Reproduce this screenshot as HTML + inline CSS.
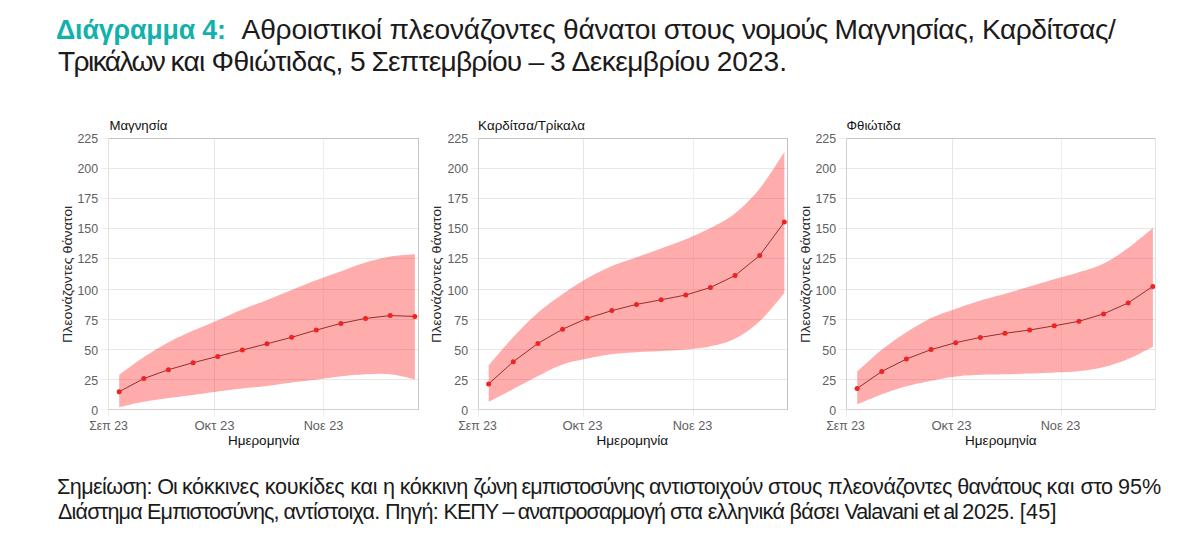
<!DOCTYPE html>
<html><head><meta charset="utf-8"><style>
html,body{margin:0;padding:0;background:#fff;}
body{width:1202px;height:556px;position:relative;overflow:hidden;font-family:"Liberation Sans",sans-serif;}
svg{position:absolute;left:0;top:0;}
text{font-family:"Liberation Sans",sans-serif;}
.tt{font-size:28.2px;fill:#1c1a1a;}
.tb{font-size:26.8px;fill:#12b1ab;font-weight:bold;}
.nt{font-size:21.6px;fill:#1a1a1a;}
.tk{font-size:13px;fill:#606060;}
.ax{font-size:13px;fill:#111;}
</style></head><body>
<svg width="1202" height="556" viewBox="0 0 1202 556">
<text class="tb" x="56" y="38.5" textLength="170" lengthAdjust="spacing">Διάγραμμα 4:</text>
<text class="tt" x="241.60 260.16 275.60 291.40 306.83 312.85 330.00 340.89 346.91 360.41 375.85 381.86 389.45 408.59 422.36 434.62 449.98 463.76 479.73 489.96 505.32 519.10 529.92 542.17 555.45 562.97 578.40 594.43 608.27 624.30 634.79 650.22 656.22 663.80 680.79 691.13 706.40 721.40 734.58 742.01 755.22 770.02 785.39 800.20 814.74 827.45 834.41 857.41 873.22 886.83 900.44 915.64 932.56 938.34 954.16 967.27 974.62 981.98 999.92 1015.69 1031.21 1046.38 1052.12 1062.34 1079.22 1094.99 1108.06" y="38.5">Αθροιστικοί πλεονάζοντες θάνατοι στους νομούς Μαγνησίας, Καρδίτσας/</text>
<text class="tt" x="58.00 73.59 88.00 92.64 104.76 119.42 131.46 151.85 164.31 170.52 183.47 198.97 204.44 211.49 233.42 248.53 254.23 275.27 285.84 291.53 306.66 322.39 335.41 342.69 349.96 364.60 371.39 388.01 399.77 418.41 428.73 440.49 455.92 471.32 486.55 491.99 506.86 521.46 528.49 543.13 549.92 565.44 571.55 589.78 601.76 615.24 627.21 642.86 658.47 673.91 679.57 694.65 709.46 716.70 732.31 747.93 763.54 779.16" y="70.8">Τρικάλων και Φθιώτιδας, 5 Σεπτεμβρίου – 3 Δεκεμβρίου 2023.</text>
<rect x="109" y="379" width="309" height="1" fill="#e8e8e8"/>
<rect x="109" y="349" width="309" height="1" fill="#e8e8e8"/>
<rect x="109" y="319" width="309" height="1" fill="#e8e8e8"/>
<rect x="109" y="289" width="309" height="1" fill="#e8e8e8"/>
<rect x="109" y="258" width="309" height="1" fill="#e8e8e8"/>
<rect x="109" y="228" width="309" height="1" fill="#e8e8e8"/>
<rect x="109" y="198" width="309" height="1" fill="#e8e8e8"/>
<rect x="109" y="168" width="309" height="1" fill="#e8e8e8"/>
<rect x="214" y="139" width="1" height="270" fill="#e6e6e6"/>
<rect x="323" y="139" width="1" height="270" fill="#efefef"/>
<path d="M119.20,374.70 L121.10,373.32 L123.63,371.47 L126.64,369.27 L129.98,366.82 L133.52,364.27 L137.10,361.72 L140.59,359.29 L143.84,357.10 L146.92,355.09 L150.00,353.13 L153.08,351.21 L156.16,349.33 L159.24,347.50 L162.32,345.72 L165.40,343.98 L168.48,342.30 L171.56,340.68 L174.64,339.12 L177.72,337.62 L180.80,336.17 L183.88,334.75 L186.96,333.35 L190.04,331.97 L193.12,330.60 L196.20,329.25 L199.28,327.94 L202.36,326.66 L205.44,325.39 L208.52,324.14 L211.60,322.88 L214.68,321.60 L217.76,320.30 L220.84,318.97 L223.92,317.60 L227.00,316.23 L230.08,314.85 L233.16,313.48 L236.24,312.12 L239.32,310.79 L242.40,309.50 L245.48,308.25 L248.56,307.05 L251.64,305.87 L254.72,304.71 L257.80,303.55 L260.88,302.39 L263.96,301.21 L267.04,300.00 L270.12,298.76 L273.20,297.51 L276.28,296.24 L279.36,294.96 L282.44,293.68 L285.52,292.41 L288.60,291.15 L291.68,289.90 L294.76,288.66 L297.84,287.43 L300.92,286.20 L304.00,284.97 L307.08,283.76 L310.16,282.56 L313.24,281.37 L316.32,280.20 L319.40,279.05 L322.48,277.92 L325.56,276.80 L328.64,275.69 L331.72,274.60 L334.80,273.50 L337.88,272.40 L340.96,271.30 L344.04,270.18 L347.12,269.03 L350.20,267.87 L353.28,266.71 L356.36,265.58 L359.44,264.49 L362.52,263.46 L365.60,262.50 L368.68,261.60 L371.76,260.74 L374.84,259.92 L377.92,259.15 L381.00,258.43 L384.08,257.76 L387.16,257.15 L390.24,256.60 L393.49,256.12 L396.98,255.70 L400.56,255.34 L404.10,255.03 L407.44,254.77 L410.45,254.55 L412.98,254.36 L414.88,254.20 L414.88,379.30 L412.98,378.88 L410.45,378.28 L407.44,377.57 L404.10,376.80 L400.56,376.03 L396.98,375.32 L393.49,374.72 L390.24,374.30 L387.16,374.05 L384.08,373.90 L381.00,373.85 L377.92,373.86 L374.84,373.93 L371.76,374.04 L368.68,374.17 L365.60,374.30 L362.52,374.45 L359.44,374.63 L356.36,374.85 L353.28,375.09 L350.20,375.37 L347.12,375.66 L344.04,375.97 L340.96,376.30 L337.88,376.65 L334.80,377.04 L331.72,377.46 L328.64,377.89 L325.56,378.33 L322.48,378.77 L319.40,379.20 L316.32,379.60 L313.24,379.98 L310.16,380.34 L307.08,380.69 L304.00,381.04 L300.92,381.39 L297.84,381.74 L294.76,382.11 L291.68,382.50 L288.60,382.92 L285.52,383.36 L282.44,383.82 L279.36,384.28 L276.28,384.74 L273.20,385.19 L270.12,385.61 L267.04,386.00 L263.96,386.35 L260.88,386.66 L257.80,386.95 L254.72,387.22 L251.64,387.50 L248.56,387.78 L245.48,388.07 L242.40,388.40 L239.32,388.75 L236.24,389.12 L233.16,389.50 L230.08,389.89 L227.00,390.28 L223.92,390.69 L220.84,391.09 L217.76,391.50 L214.68,391.91 L211.60,392.33 L208.52,392.76 L205.44,393.19 L202.36,393.63 L199.28,394.06 L196.20,394.48 L193.12,394.90 L190.04,395.31 L186.96,395.70 L183.88,396.10 L180.80,396.49 L177.72,396.88 L174.64,397.28 L171.56,397.68 L168.48,398.10 L165.40,398.52 L162.32,398.93 L159.24,399.34 L156.16,399.76 L153.08,400.19 L150.00,400.66 L146.92,401.16 L143.84,401.70 L140.59,402.33 L137.10,403.07 L133.52,403.87 L129.98,404.67 L126.64,405.46 L123.63,406.17 L121.10,406.76 L119.20,407.20Z" fill="#ff1a1a" fill-opacity="0.36"/>
<polyline points="119.15,391.70 143.79,378.60 168.43,369.70 193.07,362.70 217.71,356.40 242.35,350.00 266.99,343.80 291.63,337.30 316.27,330.10 340.91,323.40 365.55,318.40 390.19,315.60 414.83,316.40" fill="none" stroke="#801818" stroke-width="0.85"/>
<circle cx="119.15" cy="391.70" r="2.5" fill="#f02222"/>
<circle cx="143.79" cy="378.60" r="2.5" fill="#f02222"/>
<circle cx="168.43" cy="369.70" r="2.5" fill="#f02222"/>
<circle cx="193.07" cy="362.70" r="2.5" fill="#f02222"/>
<circle cx="217.71" cy="356.40" r="2.5" fill="#f02222"/>
<circle cx="242.35" cy="350.00" r="2.5" fill="#f02222"/>
<circle cx="266.99" cy="343.80" r="2.5" fill="#f02222"/>
<circle cx="291.63" cy="337.30" r="2.5" fill="#f02222"/>
<circle cx="316.27" cy="330.10" r="2.5" fill="#f02222"/>
<circle cx="340.91" cy="323.40" r="2.5" fill="#f02222"/>
<circle cx="365.55" cy="318.40" r="2.5" fill="#f02222"/>
<circle cx="390.19" cy="315.60" r="2.5" fill="#f02222"/>
<circle cx="414.83" cy="316.40" r="2.5" fill="#f02222"/>
<rect x="108" y="138" width="311" height="1" fill="#c4c4c4"/>
<rect x="108" y="409" width="311" height="1" fill="#d0d0d0"/>
<rect x="108" y="138" width="1" height="272" fill="#e2e2e2"/>
<rect x="418" y="138" width="1" height="272" fill="#c6c6c6"/>
<rect x="101" y="409" width="7" height="1" fill="#eeeeee"/>
<text x="98.10" y="414.90" text-anchor="end" class="tk" textLength="6.90" lengthAdjust="spacingAndGlyphs">0</text>
<rect x="101" y="379" width="7" height="1" fill="#eeeeee"/>
<text x="98.10" y="384.81" text-anchor="end" class="tk" textLength="13.80" lengthAdjust="spacingAndGlyphs">25</text>
<rect x="101" y="349" width="7" height="1" fill="#eeeeee"/>
<text x="98.10" y="354.72" text-anchor="end" class="tk" textLength="13.80" lengthAdjust="spacingAndGlyphs">50</text>
<rect x="101" y="319" width="7" height="1" fill="#eeeeee"/>
<text x="98.10" y="324.63" text-anchor="end" class="tk" textLength="13.80" lengthAdjust="spacingAndGlyphs">75</text>
<rect x="101" y="289" width="7" height="1" fill="#eeeeee"/>
<text x="98.10" y="294.54" text-anchor="end" class="tk" textLength="20.70" lengthAdjust="spacingAndGlyphs">100</text>
<rect x="101" y="258" width="7" height="1" fill="#eeeeee"/>
<text x="98.10" y="263.46" text-anchor="end" class="tk" textLength="20.70" lengthAdjust="spacingAndGlyphs">125</text>
<rect x="101" y="228" width="7" height="1" fill="#eeeeee"/>
<text x="98.10" y="233.37" text-anchor="end" class="tk" textLength="20.70" lengthAdjust="spacingAndGlyphs">150</text>
<rect x="101" y="198" width="7" height="1" fill="#eeeeee"/>
<text x="98.10" y="203.28" text-anchor="end" class="tk" textLength="20.70" lengthAdjust="spacingAndGlyphs">175</text>
<rect x="101" y="168" width="7" height="1" fill="#eeeeee"/>
<text x="98.10" y="173.19" text-anchor="end" class="tk" textLength="20.70" lengthAdjust="spacingAndGlyphs">200</text>
<rect x="101" y="138" width="7" height="1" fill="#eeeeee"/>
<text x="98.10" y="143.10" text-anchor="end" class="tk" textLength="20.70" lengthAdjust="spacingAndGlyphs">225</text>
<rect x="108" y="410" width="1" height="7" fill="#eeeeee"/>
<text x="108.50" y="429.5" text-anchor="middle" class="tk" textLength="38.6" lengthAdjust="spacingAndGlyphs">Σεπ 23</text>
<rect x="214" y="410" width="1" height="7" fill="#eeeeee"/>
<text x="214.50" y="429.5" text-anchor="middle" class="tk" textLength="40.2" lengthAdjust="spacingAndGlyphs">Οκτ 23</text>
<rect x="323" y="410" width="1" height="7" fill="#eeeeee"/>
<text x="323.50" y="429.5" text-anchor="middle" class="tk" textLength="39.6" lengthAdjust="spacingAndGlyphs">Νοε 23</text>
<text x="263.70" y="444.6" text-anchor="middle" class="ax" textLength="71.6" lengthAdjust="spacingAndGlyphs">Ημερομηνία</text>
<text transform="translate(71.70,274.4) rotate(-90)" x="0" y="0" text-anchor="middle" class="ax" textLength="137.2" lengthAdjust="spacingAndGlyphs" style="fill:#2a2a2a">Πλεονάζοντες θάνατοι</text>
<text x="109.40" y="129.8" class="ax" textLength="58.0" lengthAdjust="spacingAndGlyphs">Μαγνησία</text>
<rect x="479" y="379" width="308" height="1" fill="#e8e8e8"/>
<rect x="479" y="349" width="308" height="1" fill="#e8e8e8"/>
<rect x="479" y="319" width="308" height="1" fill="#e8e8e8"/>
<rect x="479" y="289" width="308" height="1" fill="#e8e8e8"/>
<rect x="479" y="258" width="308" height="1" fill="#e8e8e8"/>
<rect x="479" y="228" width="308" height="1" fill="#e8e8e8"/>
<rect x="479" y="198" width="308" height="1" fill="#e8e8e8"/>
<rect x="479" y="168" width="308" height="1" fill="#e8e8e8"/>
<rect x="583" y="139" width="1" height="270" fill="#e6e6e6"/>
<rect x="693" y="139" width="1" height="270" fill="#efefef"/>
<path d="M488.70,365.30 L490.60,363.09 L493.13,360.12 L496.14,356.58 L499.48,352.67 L503.02,348.56 L506.60,344.46 L510.09,340.54 L513.34,337.00 L516.42,333.73 L519.50,330.51 L522.58,327.34 L525.66,324.24 L528.74,321.22 L531.82,318.28 L534.90,315.44 L537.98,312.70 L541.06,310.08 L544.14,307.58 L547.22,305.18 L550.30,302.87 L553.38,300.62 L556.46,298.42 L559.54,296.25 L562.62,294.10 L565.70,291.97 L568.78,289.87 L571.86,287.81 L574.94,285.80 L578.02,283.84 L581.10,281.93 L584.18,280.08 L587.26,278.30 L590.34,276.58 L593.42,274.92 L596.50,273.31 L599.58,271.76 L602.66,270.27 L605.74,268.83 L608.82,267.44 L611.90,266.10 L614.98,264.84 L618.06,263.66 L621.14,262.56 L624.22,261.49 L627.30,260.46 L630.38,259.43 L633.46,258.38 L636.54,257.30 L639.62,256.19 L642.70,255.09 L645.78,253.98 L648.86,252.88 L651.94,251.76 L655.02,250.65 L658.10,249.53 L661.18,248.40 L664.26,247.28 L667.34,246.17 L670.42,245.06 L673.50,243.94 L676.58,242.81 L679.66,241.65 L682.74,240.45 L685.82,239.20 L688.90,237.92 L691.98,236.62 L695.06,235.30 L698.14,233.94 L701.22,232.54 L704.30,231.09 L707.38,229.58 L710.46,228.00 L713.54,226.40 L716.62,224.81 L719.70,223.19 L722.78,221.50 L725.86,219.71 L728.94,217.77 L732.02,215.64 L735.10,213.30 L738.18,210.76 L741.26,208.08 L744.34,205.25 L747.42,202.26 L750.50,199.10 L753.58,195.76 L756.66,192.23 L759.74,188.50 L762.99,184.25 L766.48,179.34 L770.06,174.07 L773.60,168.70 L776.94,163.53 L779.95,158.83 L782.48,154.90 L784.38,152.00 L784.38,293.10 L782.48,295.34 L779.95,298.40 L776.94,302.05 L773.60,306.06 L770.06,310.21 L766.48,314.27 L762.99,318.01 L759.74,321.20 L756.66,323.95 L753.58,326.53 L750.50,328.93 L747.42,331.18 L744.34,333.26 L741.26,335.18 L738.18,336.96 L735.10,338.60 L732.02,340.06 L728.94,341.31 L725.86,342.40 L722.78,343.34 L719.70,344.17 L716.62,344.92 L713.54,345.62 L710.46,346.30 L707.38,346.93 L704.30,347.46 L701.22,347.90 L698.14,348.29 L695.06,348.62 L691.98,348.93 L688.90,349.21 L685.82,349.50 L682.74,349.77 L679.66,350.00 L676.58,350.20 L673.50,350.38 L670.42,350.53 L667.34,350.69 L664.26,350.84 L661.18,351.00 L658.10,351.16 L655.02,351.30 L651.94,351.44 L648.86,351.57 L645.78,351.70 L642.70,351.85 L639.62,352.01 L636.54,352.20 L633.46,352.40 L630.38,352.59 L627.30,352.79 L624.22,353.00 L621.14,353.24 L618.06,353.51 L614.98,353.83 L611.90,354.20 L608.82,354.62 L605.74,355.10 L602.66,355.61 L599.58,356.16 L596.50,356.73 L593.42,357.34 L590.34,357.96 L587.26,358.60 L584.18,359.23 L581.10,359.84 L578.02,360.46 L574.94,361.11 L571.86,361.81 L568.78,362.60 L565.70,363.48 L562.62,364.50 L559.54,365.66 L556.46,366.95 L553.38,368.34 L550.30,369.81 L547.22,371.33 L544.14,372.89 L541.06,374.45 L537.98,376.00 L534.90,377.55 L531.82,379.15 L528.74,380.77 L525.66,382.42 L522.58,384.07 L519.50,385.73 L516.42,387.37 L513.34,389.00 L510.09,390.70 L506.60,392.51 L503.02,394.38 L499.48,396.21 L496.14,397.95 L493.13,399.50 L490.60,400.81 L488.70,401.80Z" fill="#ff1a1a" fill-opacity="0.36"/>
<polyline points="488.65,383.90 513.29,361.70 537.93,343.40 562.57,329.20 587.21,318.30 611.85,310.60 636.49,304.40 661.13,299.80 685.77,295.00 710.41,287.50 735.05,275.60 759.69,255.50 784.33,222.00" fill="none" stroke="#801818" stroke-width="0.85"/>
<circle cx="488.65" cy="383.90" r="2.5" fill="#f02222"/>
<circle cx="513.29" cy="361.70" r="2.5" fill="#f02222"/>
<circle cx="537.93" cy="343.40" r="2.5" fill="#f02222"/>
<circle cx="562.57" cy="329.20" r="2.5" fill="#f02222"/>
<circle cx="587.21" cy="318.30" r="2.5" fill="#f02222"/>
<circle cx="611.85" cy="310.60" r="2.5" fill="#f02222"/>
<circle cx="636.49" cy="304.40" r="2.5" fill="#f02222"/>
<circle cx="661.13" cy="299.80" r="2.5" fill="#f02222"/>
<circle cx="685.77" cy="295.00" r="2.5" fill="#f02222"/>
<circle cx="710.41" cy="287.50" r="2.5" fill="#f02222"/>
<circle cx="735.05" cy="275.60" r="2.5" fill="#f02222"/>
<circle cx="759.69" cy="255.50" r="2.5" fill="#f02222"/>
<circle cx="784.33" cy="222.00" r="2.5" fill="#f02222"/>
<rect x="478" y="138" width="310" height="1" fill="#c4c4c4"/>
<rect x="478" y="409" width="310" height="1" fill="#d0d0d0"/>
<rect x="478" y="138" width="1" height="272" fill="#cfcfcf"/>
<rect x="787" y="138" width="1" height="272" fill="#c2c2c2"/>
<rect x="471" y="409" width="7" height="1" fill="#eeeeee"/>
<text x="468.10" y="414.90" text-anchor="end" class="tk" textLength="6.90" lengthAdjust="spacingAndGlyphs">0</text>
<rect x="471" y="379" width="7" height="1" fill="#eeeeee"/>
<text x="468.10" y="384.81" text-anchor="end" class="tk" textLength="13.80" lengthAdjust="spacingAndGlyphs">25</text>
<rect x="471" y="349" width="7" height="1" fill="#eeeeee"/>
<text x="468.10" y="354.72" text-anchor="end" class="tk" textLength="13.80" lengthAdjust="spacingAndGlyphs">50</text>
<rect x="471" y="319" width="7" height="1" fill="#eeeeee"/>
<text x="468.10" y="324.63" text-anchor="end" class="tk" textLength="13.80" lengthAdjust="spacingAndGlyphs">75</text>
<rect x="471" y="289" width="7" height="1" fill="#eeeeee"/>
<text x="468.10" y="294.54" text-anchor="end" class="tk" textLength="20.70" lengthAdjust="spacingAndGlyphs">100</text>
<rect x="471" y="258" width="7" height="1" fill="#eeeeee"/>
<text x="468.10" y="263.46" text-anchor="end" class="tk" textLength="20.70" lengthAdjust="spacingAndGlyphs">125</text>
<rect x="471" y="228" width="7" height="1" fill="#eeeeee"/>
<text x="468.10" y="233.37" text-anchor="end" class="tk" textLength="20.70" lengthAdjust="spacingAndGlyphs">150</text>
<rect x="471" y="198" width="7" height="1" fill="#eeeeee"/>
<text x="468.10" y="203.28" text-anchor="end" class="tk" textLength="20.70" lengthAdjust="spacingAndGlyphs">175</text>
<rect x="471" y="168" width="7" height="1" fill="#eeeeee"/>
<text x="468.10" y="173.19" text-anchor="end" class="tk" textLength="20.70" lengthAdjust="spacingAndGlyphs">200</text>
<rect x="471" y="138" width="7" height="1" fill="#eeeeee"/>
<text x="468.10" y="143.10" text-anchor="end" class="tk" textLength="20.70" lengthAdjust="spacingAndGlyphs">225</text>
<rect x="478" y="410" width="1" height="7" fill="#eeeeee"/>
<text x="477.50" y="429.5" text-anchor="middle" class="tk" textLength="38.6" lengthAdjust="spacingAndGlyphs">Σεπ 23</text>
<rect x="583" y="410" width="1" height="7" fill="#eeeeee"/>
<text x="582.50" y="429.5" text-anchor="middle" class="tk" textLength="40.2" lengthAdjust="spacingAndGlyphs">Οκτ 23</text>
<rect x="693" y="410" width="1" height="7" fill="#eeeeee"/>
<text x="692.50" y="429.5" text-anchor="middle" class="tk" textLength="39.6" lengthAdjust="spacingAndGlyphs">Νοε 23</text>
<text x="632.40" y="444.6" text-anchor="middle" class="ax" textLength="71.6" lengthAdjust="spacingAndGlyphs">Ημερομηνία</text>
<text transform="translate(441.20,274.4) rotate(-90)" x="0" y="0" text-anchor="middle" class="ax" textLength="137.2" lengthAdjust="spacingAndGlyphs" style="fill:#2a2a2a">Πλεονάζοντες θάνατοι</text>
<text x="478.10" y="129.8" class="ax" textLength="107.0" lengthAdjust="spacingAndGlyphs">Καρδίτσα/Τρίκαλα</text>
<rect x="847" y="379" width="308" height="1" fill="#e8e8e8"/>
<rect x="847" y="349" width="308" height="1" fill="#e8e8e8"/>
<rect x="847" y="319" width="308" height="1" fill="#e8e8e8"/>
<rect x="847" y="289" width="308" height="1" fill="#e8e8e8"/>
<rect x="847" y="258" width="308" height="1" fill="#e8e8e8"/>
<rect x="847" y="228" width="308" height="1" fill="#e8e8e8"/>
<rect x="847" y="198" width="308" height="1" fill="#e8e8e8"/>
<rect x="847" y="168" width="308" height="1" fill="#e8e8e8"/>
<rect x="952" y="139" width="1" height="270" fill="#e6e6e6"/>
<rect x="1061" y="139" width="1" height="270" fill="#efefef"/>
<path d="M857.20,371.40 L859.10,369.70 L861.63,367.40 L864.64,364.67 L867.98,361.64 L871.52,358.48 L875.10,355.34 L878.59,352.36 L881.84,349.70 L884.92,347.29 L888.00,344.95 L891.08,342.68 L894.16,340.47 L897.24,338.33 L900.32,336.24 L903.40,334.20 L906.48,332.20 L909.56,330.24 L912.64,328.32 L915.72,326.45 L918.80,324.64 L921.88,322.89 L924.96,321.21 L928.04,319.61 L931.12,318.10 L934.20,316.70 L937.28,315.41 L940.36,314.22 L943.44,313.09 L946.52,312.00 L949.60,310.94 L952.68,309.88 L955.76,308.80 L958.84,307.70 L961.92,306.62 L965.00,305.54 L968.08,304.49 L971.16,303.45 L974.24,302.44 L977.32,301.45 L980.40,300.50 L983.48,299.59 L986.56,298.73 L989.64,297.90 L992.72,297.09 L995.80,296.29 L998.88,295.48 L1001.96,294.66 L1005.04,293.80 L1008.12,292.92 L1011.20,292.02 L1014.28,291.11 L1017.36,290.19 L1020.44,289.26 L1023.52,288.34 L1026.60,287.42 L1029.68,286.50 L1032.76,285.58 L1035.84,284.67 L1038.92,283.74 L1042.00,282.83 L1045.08,281.91 L1048.16,281.00 L1051.24,280.09 L1054.32,279.20 L1057.40,278.33 L1060.48,277.49 L1063.56,276.66 L1066.64,275.84 L1069.72,275.00 L1072.80,274.14 L1075.88,273.25 L1078.96,272.30 L1082.04,271.35 L1085.12,270.42 L1088.20,269.48 L1091.28,268.50 L1094.36,267.45 L1097.44,266.31 L1100.52,265.03 L1103.60,263.60 L1106.68,262.00 L1109.76,260.27 L1112.84,258.41 L1115.92,256.45 L1119.00,254.40 L1122.08,252.28 L1125.16,250.11 L1128.24,247.90 L1131.49,245.48 L1134.98,242.75 L1138.56,239.87 L1142.10,236.97 L1145.44,234.19 L1148.45,231.67 L1150.98,229.56 L1152.88,228.00 L1152.88,346.70 L1150.98,347.68 L1148.45,349.01 L1145.44,350.60 L1142.10,352.34 L1138.56,354.15 L1134.98,355.93 L1131.49,357.58 L1128.24,359.00 L1125.16,360.24 L1122.08,361.41 L1119.00,362.52 L1115.92,363.56 L1112.84,364.54 L1109.76,365.45 L1106.68,366.31 L1103.60,367.10 L1100.52,367.82 L1097.44,368.47 L1094.36,369.05 L1091.28,369.58 L1088.20,370.04 L1085.12,370.47 L1082.04,370.85 L1078.96,371.20 L1075.88,371.50 L1072.80,371.73 L1069.72,371.91 L1066.64,372.04 L1063.56,372.16 L1060.48,372.26 L1057.40,372.37 L1054.32,372.50 L1051.24,372.64 L1048.16,372.78 L1045.08,372.91 L1042.00,373.03 L1038.92,373.15 L1035.84,373.27 L1032.76,373.39 L1029.68,373.50 L1026.60,373.61 L1023.52,373.72 L1020.44,373.83 L1017.36,373.93 L1014.28,374.03 L1011.20,374.13 L1008.12,374.22 L1005.04,374.30 L1001.96,374.37 L998.88,374.42 L995.80,374.46 L992.72,374.49 L989.64,374.54 L986.56,374.60 L983.48,374.68 L980.40,374.80 L977.32,374.94 L974.24,375.08 L971.16,375.24 L968.08,375.41 L965.00,375.62 L961.92,375.86 L958.84,376.15 L955.76,376.50 L952.68,376.91 L949.60,377.37 L946.52,377.87 L943.44,378.42 L940.36,378.99 L937.28,379.59 L934.20,380.19 L931.12,380.80 L928.04,381.40 L924.96,382.01 L921.88,382.63 L918.80,383.26 L915.72,383.93 L912.64,384.63 L909.56,385.39 L906.48,386.20 L903.40,387.07 L900.32,387.99 L897.24,388.95 L894.16,389.96 L891.08,391.00 L888.00,392.07 L884.92,393.17 L881.84,394.30 L878.59,395.54 L875.10,396.92 L871.52,398.38 L867.98,399.86 L864.64,401.26 L861.63,402.54 L859.10,403.61 L857.20,404.40Z" fill="#ff1a1a" fill-opacity="0.36"/>
<polyline points="857.15,388.50 881.79,371.40 906.43,359.00 931.07,349.60 955.71,342.70 980.35,337.40 1004.99,333.30 1029.63,330.00 1054.27,325.80 1078.91,321.30 1103.55,313.90 1128.19,302.90 1152.83,286.40" fill="none" stroke="#801818" stroke-width="0.85"/>
<circle cx="857.15" cy="388.50" r="2.5" fill="#f02222"/>
<circle cx="881.79" cy="371.40" r="2.5" fill="#f02222"/>
<circle cx="906.43" cy="359.00" r="2.5" fill="#f02222"/>
<circle cx="931.07" cy="349.60" r="2.5" fill="#f02222"/>
<circle cx="955.71" cy="342.70" r="2.5" fill="#f02222"/>
<circle cx="980.35" cy="337.40" r="2.5" fill="#f02222"/>
<circle cx="1004.99" cy="333.30" r="2.5" fill="#f02222"/>
<circle cx="1029.63" cy="330.00" r="2.5" fill="#f02222"/>
<circle cx="1054.27" cy="325.80" r="2.5" fill="#f02222"/>
<circle cx="1078.91" cy="321.30" r="2.5" fill="#f02222"/>
<circle cx="1103.55" cy="313.90" r="2.5" fill="#f02222"/>
<circle cx="1128.19" cy="302.90" r="2.5" fill="#f02222"/>
<circle cx="1152.83" cy="286.40" r="2.5" fill="#f02222"/>
<rect x="846" y="138" width="310" height="1" fill="#c4c4c4"/>
<rect x="846" y="409" width="310" height="1" fill="#d0d0d0"/>
<rect x="846" y="138" width="1" height="272" fill="#d2d2d2"/>
<rect x="1155" y="138" width="1" height="272" fill="#e2e2e2"/>
<rect x="839" y="409" width="7" height="1" fill="#eeeeee"/>
<text x="836.10" y="414.90" text-anchor="end" class="tk" textLength="6.90" lengthAdjust="spacingAndGlyphs">0</text>
<rect x="839" y="379" width="7" height="1" fill="#eeeeee"/>
<text x="836.10" y="384.81" text-anchor="end" class="tk" textLength="13.80" lengthAdjust="spacingAndGlyphs">25</text>
<rect x="839" y="349" width="7" height="1" fill="#eeeeee"/>
<text x="836.10" y="354.72" text-anchor="end" class="tk" textLength="13.80" lengthAdjust="spacingAndGlyphs">50</text>
<rect x="839" y="319" width="7" height="1" fill="#eeeeee"/>
<text x="836.10" y="324.63" text-anchor="end" class="tk" textLength="13.80" lengthAdjust="spacingAndGlyphs">75</text>
<rect x="839" y="289" width="7" height="1" fill="#eeeeee"/>
<text x="836.10" y="294.54" text-anchor="end" class="tk" textLength="20.70" lengthAdjust="spacingAndGlyphs">100</text>
<rect x="839" y="258" width="7" height="1" fill="#eeeeee"/>
<text x="836.10" y="263.46" text-anchor="end" class="tk" textLength="20.70" lengthAdjust="spacingAndGlyphs">125</text>
<rect x="839" y="228" width="7" height="1" fill="#eeeeee"/>
<text x="836.10" y="233.37" text-anchor="end" class="tk" textLength="20.70" lengthAdjust="spacingAndGlyphs">150</text>
<rect x="839" y="198" width="7" height="1" fill="#eeeeee"/>
<text x="836.10" y="203.28" text-anchor="end" class="tk" textLength="20.70" lengthAdjust="spacingAndGlyphs">175</text>
<rect x="839" y="168" width="7" height="1" fill="#eeeeee"/>
<text x="836.10" y="173.19" text-anchor="end" class="tk" textLength="20.70" lengthAdjust="spacingAndGlyphs">200</text>
<rect x="839" y="138" width="7" height="1" fill="#eeeeee"/>
<text x="836.10" y="143.10" text-anchor="end" class="tk" textLength="20.70" lengthAdjust="spacingAndGlyphs">225</text>
<rect x="846" y="410" width="1" height="7" fill="#eeeeee"/>
<text x="845.50" y="429.5" text-anchor="middle" class="tk" textLength="38.6" lengthAdjust="spacingAndGlyphs">Σεπ 23</text>
<rect x="952" y="410" width="1" height="7" fill="#eeeeee"/>
<text x="951.50" y="429.5" text-anchor="middle" class="tk" textLength="40.2" lengthAdjust="spacingAndGlyphs">Οκτ 23</text>
<rect x="1061" y="410" width="1" height="7" fill="#eeeeee"/>
<text x="1060.50" y="429.5" text-anchor="middle" class="tk" textLength="39.6" lengthAdjust="spacingAndGlyphs">Νοε 23</text>
<text x="1000.90" y="444.6" text-anchor="middle" class="ax" textLength="71.6" lengthAdjust="spacingAndGlyphs">Ημερομηνία</text>
<text transform="translate(809.70,274.4) rotate(-90)" x="0" y="0" text-anchor="middle" class="ax" textLength="137.2" lengthAdjust="spacingAndGlyphs" style="fill:#2a2a2a">Πλεονάζοντες θάνατοι</text>
<text x="846.60" y="129.8" class="ax" textLength="53.9" lengthAdjust="spacingAndGlyphs">Φθιώτιδα</text>
<text class="nt" x="57.10 69.82 81.20 93.01 102.01 106.19 122.42 135.11 146.49 151.85 157.21 173.03 176.86 181.88 192.09 203.76 214.22 224.67 229.14 239.60 248.90 258.98 264.64 274.91 286.65 298.19 308.71 313.25 325.00 334.37 344.51 350.24 360.51 372.72 377.26 382.98 394.43 399.87 409.85 421.31 431.54 441.77 446.02 456.25 467.71 473.14 480.16 495.97 505.70 516.65 521.59 530.28 541.79 555.75 559.61 571.99 579.28 590.34 602.72 613.59 623.44 634.50 643.98 649.03 660.95 671.18 679.15 683.40 696.16 703.83 715.29 719.54 729.74 741.19 752.44 762.67 768.11 781.08 788.96 800.62 812.08 822.14 827.79 842.19 852.48 861.61 873.12 883.42 895.39 902.97 914.48 924.77 932.79 941.93 951.84 957.34 968.57 980.27 990.28 1001.97 1009.42 1020.65 1031.68 1041.32 1046.53 1057.14 1069.68 1074.56 1080.62 1093.38 1101.05 1112.51 1117.94 1130.02 1142.10" y="493.6">Σημείωση: Οι κόκκινες κουκίδες και η κόκκινη ζώνη εμπιστοσύνης αντιστοιχούν στους πλεονάζοντες θανάτους και στο 95%</text>
<text class="nt" x="58.00 71.60 75.58 87.23 99.73 107.42 118.61 130.22 141.87 147.04 160.43 171.88 185.77 189.57 201.88 209.11 220.11 232.42 243.22 253.01 264.01 273.42 278.41 283.40 295.15 305.22 313.02 317.10 329.70 337.20 348.49 352.57 362.61 374.36 379.63 384.90 399.89 411.28 421.45 432.84 438.21 443.59 456.91 470.23 484.76 497.69 502.61 513.16 517.70 529.17 538.96 550.43 564.32 575.61 586.61 598.93 610.40 621.68 633.12 644.13 653.91 664.91 669.90 682.71 690.42 702.38 707.86 716.81 726.91 737.01 748.33 758.43 762.55 772.40 784.19 789.50 801.29 813.15 825.86 834.87 839.06 844.43 856.27 867.31 871.15 882.20 892.02 903.06 914.11 917.95 922.97 933.74 938.49 943.24 954.00 957.56 962.31 973.91 985.51 997.11 1008.71 1014.29 1019.87 1026.04 1038.22 1050.40" y="518.6">Διάστημα Εμπιστοσύνης, αντίστοιχα. Πηγή: ΚΕΠΥ – αναπροσαρμογή στα ελληνικά βάσει Valavani et al 2025. [45]</text>
</svg>
</body></html>
